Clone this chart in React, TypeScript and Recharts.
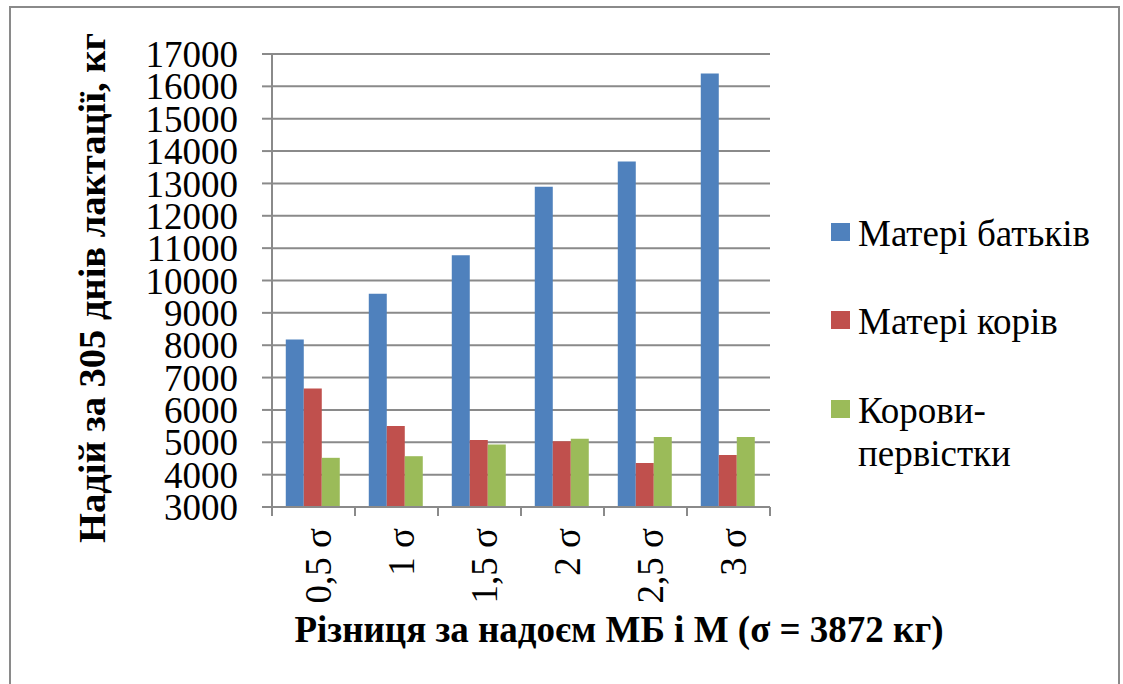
import React from 'react';
import { BarChart, Bar, XAxis, YAxis, CartesianGrid, Legend, Label } from 'recharts';

const categories = ['0,5 σ', '1 σ', '1,5 σ', '2 σ', '2,5 σ', '3 σ'];
const fathersDams = [8180, 9590, 10780, 12900, 13680, 16400];
const cowsDams = [6660, 5500, 5070, 5030, 4360, 4610];
const firstCalvers = [4520, 4570, 4930, 5110, 5160, 5160];
const yTicks = [3000, 4000, 5000, 6000, 7000, 8000, 9000, 10000, 11000, 12000, 13000, 14000, 15000, 16000, 17000];

const seriesNames = ['Матері батьків', 'Матері корів', 'Корови-первістки'];
const colors = ['#4F81BD', '#C0504D', '#9BBB59'];

const data = categories.map((c, i) => ({
  cat: c,
  a: fathersDams[i],
  b: cowsDams[i],
  c: firstCalvers[i],
}));

const W = 1123;
const H = 684;
const PLOT_LEFT = 272;
const PLOT_RIGHT = 770;
const PLOT_TOP = 54;
const PLOT_BOTTOM = 507;
const LEGEND_W = 290;
const BAND = (PLOT_RIGHT - PLOT_LEFT) / categories.length;
const FONT = '"Liberation Serif", "Times New Roman", serif';
const AXIS_GRAY = '#8a8a8a';

const XTick = (props: any) => {
  const { x, payload, index } = props;
  const left = x - BAND / 2;
  const right = x + BAND / 2;
  const tx = x + 5;
  const ty = PLOT_BOTTOM + 21;
  return (
    <g>
      <line x1={left} y1={PLOT_BOTTOM} x2={left} y2={PLOT_BOTTOM + 9} stroke={AXIS_GRAY} strokeWidth={2} />
      {index === categories.length - 1 && (
        <line x1={right} y1={PLOT_BOTTOM} x2={right} y2={PLOT_BOTTOM + 9} stroke={AXIS_GRAY} strokeWidth={2} />
      )}
      <text
        x={tx}
        y={ty}
        transform={`rotate(-90, ${tx}, ${ty})`}
        textAnchor="end"
        dominantBaseline="central"
        style={{ fontFamily: FONT }}
        fontSize={37}
        fill="#000"
      >
        {payload.value}
      </text>
    </g>
  );
};

const LegendBox = () => {
  const rows = [
    { lines: ['Матері батьків'], top: 0 },
    { lines: ['Матері корів'], top: 88 },
    { lines: ['Корови-', 'первістки'], top: 177 },
  ];
  return (
    <div style={{ position: 'relative', width: LEGEND_W, height: 300 }}>
      {rows.map((r, i) => (
        <div key={seriesNames[i]} style={{ position: 'absolute', left: 0, top: r.top }}>
          <div
            style={{
              position: 'absolute',
              left: 0,
              top: 11,
              width: 19,
              height: 18,
              background: colors[i],
            }}
          />
          <div
            style={{
              position: 'absolute',
              left: 27,
              top: 0,
              fontFamily: FONT,
              fontSize: 37,
              lineHeight: '43px',
              whiteSpace: 'nowrap',
              color: '#000',
            }}
          >
            {r.lines.map((l) => (
              <div key={l}>{l}</div>
            ))}
          </div>
        </div>
      ))}
    </div>
  );
};

export default function App() {
  return (
    <div
      style={{
        position: 'absolute',
        left: 0,
        top: 0,
        width: W,
        height: H,
        background: '#fff',
        overflow: 'hidden',
        fontFamily: FONT,
      }}
    >
      <div
        style={{
          position: 'absolute',
          left: 9,
          top: 6,
          width: 1111,
          height: 700,
          border: '2px solid #8a8a8a',
          boxSizing: 'border-box',
        }}
      />
      <BarChart
        width={W}
        height={H}
        data={data}
        margin={{ top: PLOT_TOP, right: W - PLOT_RIGHT - LEGEND_W, left: 0, bottom: 0 }}
        barCategoryGap="16.6%"
        barGap={0}
        style={{ fontFamily: FONT }}
      >
        <CartesianGrid vertical={false} stroke={AXIS_GRAY} strokeWidth={2} />
        <XAxis
          dataKey="cat"
          height={H - PLOT_BOTTOM}
          axisLine={{ stroke: AXIS_GRAY, strokeWidth: 2 }}
          tickLine={false}
          tick={<XTick />}
          interval={0}
        >
          <Label
            content={() => (
              <text
                x={619}
                y={642}
                textAnchor="middle"
                style={{ fontFamily: FONT, fontWeight: 'bold' }}
                fontSize={37}
                fill="#000"
              >
                Різниця за надоєм МБ і М (σ = 3872 кг)
              </text>
            )}
          />
        </XAxis>
        <YAxis
          width={PLOT_LEFT}
          domain={[3000, 17000]}
          ticks={yTicks}
          interval={0}
          axisLine={{ stroke: AXIS_GRAY, strokeWidth: 2 }}
          tickLine={{ stroke: AXIS_GRAY, strokeWidth: 2 }}
          tickSize={10}
          tickMargin={24}
          tick={{ fontFamily: FONT, fontSize: 37, fill: '#000' }}
        >
          <Label
            content={() => (
              <text
                x={105}
                y={288}
                transform="rotate(-90, 105, 288)"
                textAnchor="middle"
                style={{ fontFamily: FONT, fontWeight: 'bold' }}
                fontSize={38.5}
                fill="#000"
              >
                Надій за 305 днів лактації, кг
              </text>
            )}
          />
        </YAxis>
        <Legend
          layout="vertical"
          align="right"
          verticalAlign="top"
          width={LEGEND_W}
          content={<LegendBox />}
          wrapperStyle={{ position: 'absolute', left: 831, top: 212, width: LEGEND_W, height: 300 }}
        />
        <Bar dataKey="a" name={seriesNames[0]} fill={colors[0]} isAnimationActive={false} />
        <Bar dataKey="b" name={seriesNames[1]} fill={colors[1]} isAnimationActive={false} />
        <Bar dataKey="c" name={seriesNames[2]} fill={colors[2]} isAnimationActive={false} />
      </BarChart>
    </div>
  );
}
